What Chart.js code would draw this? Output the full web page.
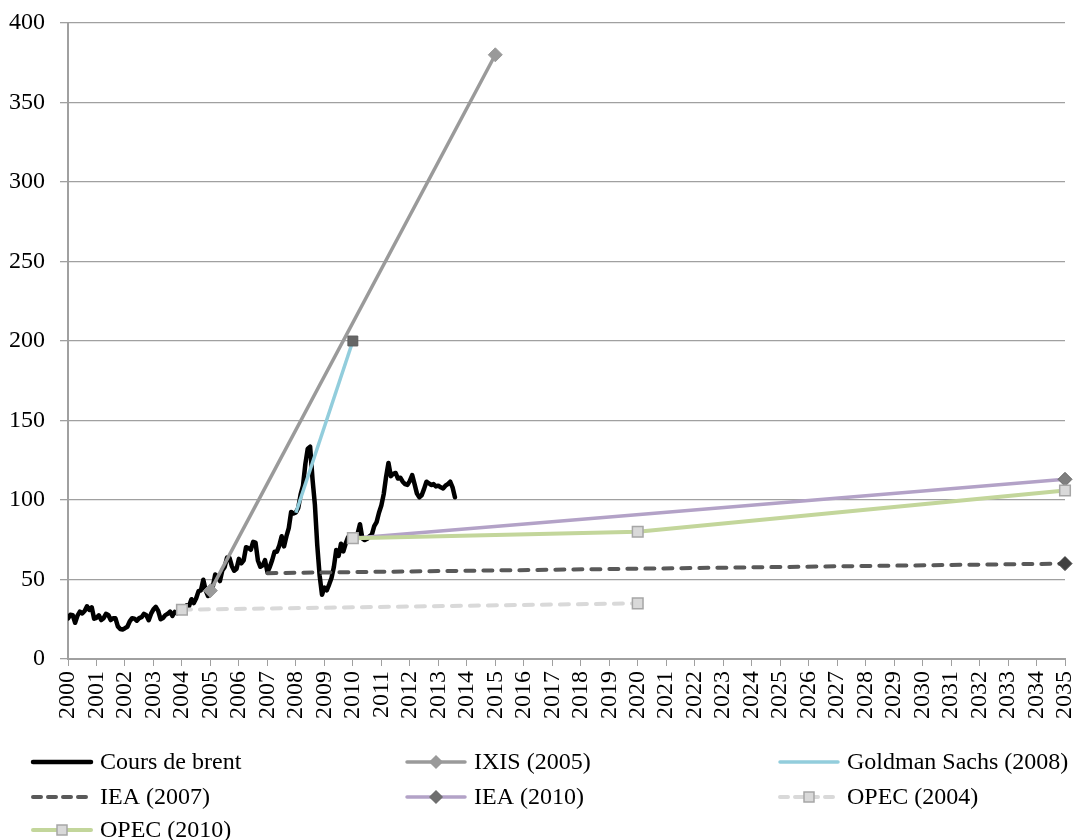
<!DOCTYPE html>
<html>
<head>
<meta charset="utf-8">
<title>Prix du pétrole : cours du brent et prévisions</title>
<script src="https://cdn.jsdelivr.net/npm/chart.js@4.4.1/dist/chart.umd.min.js"></script>
<style>
  html, body { margin: 0; padding: 0; background: #fff; }
  #wrap { width: 1077px; height: 840px; }
</style>
</head>
<body>
<div id="wrap"><canvas id="oilChart" width="1077" height="840"></canvas></div>
<script>
// ---- axis ----
const yearMin = 2000;
const yearMax = 2035;
const priceTicks = [0, 50, 100, 150, 200, 250, 300, 350, 400];

// ---- Cours de brent : monthly, from Jan 2000 to Aug 2013 ----
const brentStart = 2000;
const brentValues = [
  25.5, 27.8, 27.5, 22.8, 27.3, 29.8, 28.7, 30.2, 33.1, 30.9, 32.5, 25.3, // 2000
  25.9, 27.5, 24.5, 25.7, 28.4, 27.7, 24.5, 25.7, 25.6, 20.5, 18.9, 18.6, // 2001
  19.4, 20.3, 23.7, 25.7, 25.4, 24.1, 25.7, 26.3, 28.4, 27.5, 24.4, 28.5, // 2002
  31.2, 32.8, 30.3, 25.0, 25.8, 27.6, 28.4, 29.8, 27.1, 29.6, 28.8, 29.8, // 2003
  31.2, 30.9, 33.8, 33.4, 37.6, 35.2, 38.2, 42.7, 43.2, 49.8, 43.1, 39.6, // 2004
  44.5, 45.5, 53.1, 51.9, 49.0, 55.6, 57.9, 63.8, 63.7, 58.5, 55.5, 56.8, // 2005
  63.0, 60.2, 62.1, 70.3, 69.8, 68.7, 73.7, 73.2, 62.0, 58.0, 58.9, 62.2, // 2006
  54.6, 57.8, 62.1, 67.4, 67.5, 71.3, 77.2, 70.8, 77.1, 82.3, 92.5, 91.5, // 2007
  92.2, 95.0, 103.6, 109.1, 122.8, 132.3, 133.5, 113.2, 97.2, 71.6, 52.5, 40.4, // 2008
  44.9, 43.2, 46.8, 50.9, 57.9, 68.6, 64.9, 72.5, 67.7, 72.8, 76.7, 74.5, // 2009
  76.2, 73.8, 78.8, 84.8, 75.9, 74.8, 75.6, 77.1, 78.2, 83.5, 86.1, 92.0, // 2010
  96.5, 103.7, 114.6, 123.3, 115.0, 116.5, 117.0, 113.5, 114.0, 111.5, 110.0, 109.5, // 2011
  112.0, 115.7, 110.0, 104.0, 101.7, 103.0, 107.0, 111.5, 110.5, 109.4, 110.0, 108.5, // 2012
  109.0, 108.0, 107.3, 109.0, 110.0, 111.5, 108.0, 101.7 // 2013
];

// ---- forecasts ----
const ixisYears = [2005, 2015];
const ixisValues = [43, 380];
const goldmanYears = [2008, 2010];
const goldmanValues = [92, 200];
const iea2007Years = [2007, 2035];
const iea2007Values = [54, 60];
const iea2010Years = [2010, 2035];
const iea2010Values = [76, 113];
const opec2004Years = [2004, 2020];
const opec2004Values = [31, 35];
const opec2010Years = [2010, 2020, 2035];
const opec2010Values = [76, 80, 106];

const FONT = '"Liberation Serif", "Times New Roman", serif';
const GRID = '#A0A0A0';

function toPoints(xs, ys) {
  return xs.map((x, i) => ({ x: x, y: ys[i] }));
}

const brentPoints = brentValues.map((v, i) => ({ x: brentStart + i / 12, y: v }));

const datasets = [
  {
    label: 'Cours de brent', data: brentPoints, order: 7,
    borderColor: '#000', borderWidth: 4.5, pointRadius: 0,
    borderJoinStyle: 'round', borderCapStyle: 'round'
  },
  {
    label: 'IXIS (2005)', data: toPoints(ixisYears, ixisValues), order: 6,
    borderColor: '#9A9A9A', borderWidth: 3.5, clip: false,
    pointStyle: 'rectRot', pointRadius: 7, pointBackgroundColor: '#9A9A9A',
    pointBorderColor: '#9A9A9A', pointBorderWidth: 1,
    legendMarker: { style: 'diamond', fill: '#9A9A9A', stroke: '#9A9A9A' }
  },
  {
    label: 'Goldman Sachs (2008)', data: toPoints(goldmanYears, goldmanValues), order: 3,
    borderColor: '#92CDDC', borderWidth: 3.5, clip: false,
    pointStyle: 'rect', pointRadius: [0, 7], pointBackgroundColor: '#666666',
    pointBorderColor: '#5A5A5A', pointBorderWidth: 1
  },
  {
    label: 'IEA (2007)', data: toPoints(iea2007Years, iea2007Values), order: 5,
    borderColor: '#595959', borderWidth: 4, borderDash: [9, 9], borderCapStyle: 'round', clip: false,
    pointStyle: 'rectRot', pointRadius: [0, 7], pointBackgroundColor: '#404040',
    pointBorderColor: '#404040', pointBorderWidth: 1
  },
  {
    label: 'IEA (2010)', data: toPoints(iea2010Years, iea2010Values), order: 2,
    borderColor: '#B3A2C7', borderWidth: 3.5, clip: false,
    pointStyle: 'rectRot', pointRadius: [0, 7], pointBackgroundColor: '#7F7F7F',
    pointBorderColor: '#666666', pointBorderWidth: 1,
    legendMarker: { style: 'diamond', fill: '#6F6F6F', stroke: '#6F6F6F' }
  },
  {
    label: 'OPEC (2004)', data: toPoints(opec2004Years, opec2004Values), order: 4,
    borderColor: '#D9D9D9', borderWidth: 4, borderDash: [9, 9], borderCapStyle: 'round', clip: false,
    pointStyle: 'rect', pointRadius: 7.5, pointBackgroundColor: '#D9D9D9',
    pointBorderColor: '#A6A6A6', pointBorderWidth: 1.5,
    legendMarker: { style: 'square', fill: '#D9D9D9', stroke: '#A6A6A6' }
  },
  {
    label: 'OPEC (2010)', data: toPoints(opec2010Years, opec2010Values), order: 1,
    borderColor: '#C3D69B', borderWidth: 4, clip: false,
    pointStyle: 'rect', pointRadius: 7.5, pointBackgroundColor: '#D9D9D9',
    pointBorderColor: '#A6A6A6', pointBorderWidth: 1.5,
    legendMarker: { style: 'square', fill: '#D9D9D9', stroke: '#A6A6A6' }
  }
];

// legend in three columns under the axis, like the original sheet
const legendCols = [31, 405, 778];
const legendRows = [762, 797, 830];

const bottomLegend = {
  id: 'bottomLegend',
  afterDraw(chart) {
    const ctx = chart.ctx;
    ctx.save();
    ctx.font = '24px ' + FONT;
    ctx.textBaseline = 'middle';
    chart.data.datasets.forEach((ds, i) => {
      const x = legendCols[i % 3];
      const y = legendRows[Math.floor(i / 3)];
      ctx.beginPath();
      ctx.setLineDash(ds.borderDash ? [8, 7] : []);
      ctx.lineWidth = ds.borderWidth;
      ctx.strokeStyle = ds.borderColor;
      ctx.lineCap = 'round';
      ctx.moveTo(x + 2, y);
      ctx.lineTo(x + 60, y);
      ctx.stroke();
      ctx.setLineDash([]);
      const m = ds.legendMarker;
      if (m) {
        ctx.beginPath();
        const cx = x + 31;
        if (m.style === 'diamond') {
          ctx.moveTo(cx, y - 6); ctx.lineTo(cx + 6, y); ctx.lineTo(cx, y + 6); ctx.lineTo(cx - 6, y);
          ctx.closePath();
        } else {
          ctx.rect(cx - 5, y - 5, 10, 10);
        }
        ctx.fillStyle = m.fill;
        ctx.strokeStyle = m.stroke;
        ctx.lineWidth = 1.5;
        ctx.fill();
        ctx.stroke();
      }
      ctx.fillStyle = '#000';
      ctx.fillText(ds.label, x + 69, y + 1);
    });
    ctx.restore();
  }
};

new Chart(document.getElementById('oilChart'), {
  type: 'line',
  data: { datasets: datasets },
  options: {
    responsive: false,
    animation: false,
    devicePixelRatio: 1,
    layout: { padding: { top: 23, right: 12, bottom: 101, left: 0 } },
    plugins: { legend: { display: false }, tooltip: { enabled: false } },
    elements: { line: { tension: 0 } },
    scales: {
      x: {
        type: 'linear', min: yearMin, max: yearMax,
        afterFit(scale) {
          scale.height = 80;
          scale.paddingLeft = 0;
          scale.paddingRight = 0;
        },
        border: { color: GRID, width: 2 },
        grid: { drawOnChartArea: false, drawTicks: true, tickLength: 7, color: GRID },
        ticks: {
          stepSize: 1, autoSkip: false, minRotation: 90, maxRotation: 90, padding: 5,
          color: '#000', font: { family: FONT, size: 24 },
          callback: v => String(v)
        }
      },
      y: {
        min: 0, max: 400,
        afterFit(scale) {
          scale.width = 68;
          scale.paddingTop = 0;
          scale.paddingBottom = 0;
        },
        afterBuildTicks(scale) { scale.ticks = priceTicks.map(v => ({ value: v })); },
        border: { color: GRID, width: 2 },
        grid: { color: GRID, lineWidth: 1.3, tickLength: 8 },
        ticks: {
          padding: 15, color: '#000', font: { family: FONT, size: 24 },
          callback: v => String(v)
        }
      }
    }
  },
  plugins: [bottomLegend]
});
</script>
</body>
</html>
